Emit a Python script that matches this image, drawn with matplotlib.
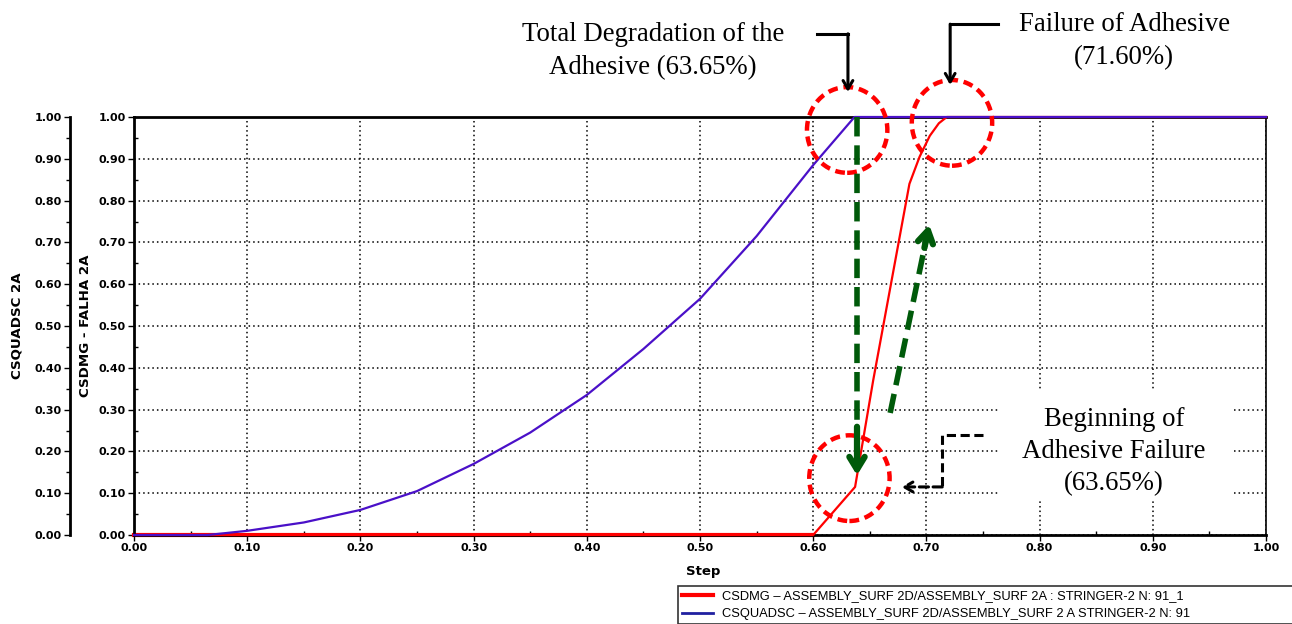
import numpy as np
import matplotlib
matplotlib.use("Agg")
import matplotlib.pyplot as plt
from matplotlib.patches import Ellipse, Rectangle
from matplotlib.lines import Line2D
from matplotlib.ticker import MultipleLocator, FormatStrFormatter
from matplotlib.font_manager import FontProperties

# data
step_quad = [0.0, 0.065, 0.10, 0.15, 0.20, 0.25, 0.30, 0.35, 0.40, 0.45, 0.50, 0.55, 0.60, 0.6365, 1.0]
csquadsc = [0.0, 0.0, 0.01, 0.03, 0.06, 0.105, 0.17, 0.245, 0.335, 0.445, 0.565, 0.715, 0.885, 1.0, 1.0]
step_dmg = [0.0, 0.60, 0.637, 0.653, 0.685, 0.694, 0.703, 0.711, 0.718, 1.0]
csdmg = [0.0, 0.0, 0.115, 0.37, 0.84, 0.905, 0.955, 0.985, 1.0, 1.0]

lbl_dmg = "CSDMG – ASSEMBLY_SURF 2D/ASSEMBLY_SURF 2A : STRINGER-2 N: 91_1"
lbl_quad = "CSQUADSC – ASSEMBLY_SURF 2D/ASSEMBLY_SURF 2 A STRINGER-2 N: 91"

RED = "#ff0000"
PURPLE = "#4a10c8"
GREEN = "#005a0a"
serif = "Liberation Serif"
tickfont = dict(family="DejaVu Sans", weight="bold", size=8)
labfont = dict(family="DejaVu Sans", weight="bold", size=9.6)

W, H = 1292, 624
fig = plt.figure(figsize=(W / 100, H / 100), dpi=100)
ax = fig.add_axes([134 / W, (H - 535) / H, (1266 - 134) / W, (535 - 117) / H])

ax.plot(step_dmg, csdmg, color=RED, lw=1.6, clip_on=False, zorder=3)
ax.plot(step_quad, csquadsc, color=PURPLE, lw=1.6, clip_on=False, zorder=4)
ax.plot([0, 0.6], [0, 0], color=RED, lw=3, clip_on=False, zorder=2)

ax.set_xlim(0, 1)
ax.set_ylim(0, 1)
ax.xaxis.set_major_locator(MultipleLocator(0.1))
ax.yaxis.set_major_locator(MultipleLocator(0.1))
ax.xaxis.set_minor_locator(MultipleLocator(0.05))
ax.yaxis.set_minor_locator(MultipleLocator(0.05))
ax.grid(True, which="major", color="black", ls=(0, (1, 2)), lw=1.1)
ax.xaxis.set_major_formatter(FormatStrFormatter("%.2f"))
ax.yaxis.set_major_formatter(FormatStrFormatter("%.2f"))
ax.tick_params(which="major", length=4, width=1, pad=2)
ax.tick_params(which="minor", length=3, width=1, direction="in")
for t in ax.get_xticklabels() + ax.get_yticklabels():
    t.set_fontproperties(FontProperties(**tickfont))
for s in ["left", "bottom", "top"]:
    ax.spines[s].set_linewidth(2)
ax.spines["right"].set_linestyle((0, (1, 1)))
ax.spines["right"].set_linewidth(1.2)

ax.set_xlabel("Step", fontdict=dict(family="DejaVu Sans", weight="bold", size=9.5))
ax.xaxis.set_label_coords(0.5025, -0.072)
ax.set_ylabel("CSDMG - FALHA 2A", fontdict=labfont)
ax.yaxis.set_label_coords(-0.037, 0.5)

# second (outer) y axis
ax2 = ax.secondary_yaxis(-64 / 1132)
ax2.yaxis.set_major_locator(MultipleLocator(0.1))
ax2.yaxis.set_minor_locator(MultipleLocator(0.05))
ax2.yaxis.set_major_formatter(FormatStrFormatter("%.2f"))
ax2.tick_params(which="major", length=4, width=1, pad=2)
ax2.tick_params(which="minor", length=3, width=1)
ax2.spines["left"].set_linewidth(2)
for t in ax2.get_yticklabels():
    t.set_fontproperties(FontProperties(**tickfont))
ax2.set_ylabel("CSQUADSC 2A", fontdict=labfont, labelpad=8)

# red dashed circles
circles = [(0.630, 0.969), (0.7226, 0.986), (0.632, 0.136)]
for cx, cy in circles:
    ax.add_patch(Ellipse((cx, cy), 0.071, 0.205, fill=False, ec=RED, lw=3.2,
                         ls=(0, (2.2, 1.3)), clip_on=False, zorder=6))

# green dashed arrows
def green_arrow(x0, y0, x1, y1):
    ax.plot([x0, x0 + (x1 - x0) * 0.93], [y0, y0 + (y1 - y0) * 0.93], color=GREEN,
            lw=4, ls=(0, (3.5, 1.6)), clip_on=False, zorder=7)
    ax.annotate("", xy=(x1, y1), xytext=(x0 + (x1 - x0) * 0.85, y0 + (y1 - y0) * 0.85),
                arrowprops=dict(arrowstyle="->,head_length=0.9,head_width=0.55", lw=4.5, color=GREEN),
                zorder=7, annotation_clip=False)

green_arrow(0.6387, 1.0, 0.6387, 0.136)
green_arrow(0.668, 0.292, 0.703, 0.749)

# black connector arrows
def elbow(xs, ys, ls="-"):
    ax.plot(xs[:-1], ys[:-1], color="black", lw=2.2, ls=ls, clip_on=False, zorder=8)
    ax.annotate("", xy=(xs[-1], ys[-1]), xytext=(xs[-2], ys[-2]),
                arrowprops=dict(arrowstyle="->,head_length=0.6,head_width=0.35", lw=2.2,
                                color="black", ls=ls, shrinkA=0, shrinkB=0),
                zorder=8, annotation_clip=False)

elbow([0.603, 0.6307, 0.6307], [1.199, 1.199, 1.06])
elbow([0.763, 0.721, 0.721], [1.222, 1.222, 1.077])
elbow([0.750, 0.714, 0.714, 0.678], [0.239, 0.239, 0.115, 0.115], ls=(0, (3, 1.5)))

# annotation texts
ax.text(0.4585, 1.157, "Total Degradation of the\nAdhesive (63.65%)", family=serif, size=19.3,
        ha="center", va="center", linespacing=1.42, clip_on=False)
ax.text(0.8746, 1.182, "Failure of Adhesive\n(71.60%)", family=serif, size=19.3,
        ha="center", va="center", linespacing=1.42, clip_on=False)
ax.add_patch(Rectangle((0.763, 0.084), 0.207, 0.262, transform=ax.transAxes,
                       fc="white", ec="none", zorder=2.5))
ax.text(0.8657, 0.199, "Beginning of\nAdhesive Failure\n(63.65%)", family=serif, size=19.3,
        ha="center", va="center", linespacing=1.38, zorder=9)

# legend
handles = [Line2D([], [], color=RED, lw=3), Line2D([], [], color="#2020a0", lw=2)]
leg = fig.legend(handles, [lbl_dmg, lbl_quad], loc="lower left", mode="expand",
                 bbox_to_anchor=(678 / W, 0.0, (1310 - 678) / W, 41 / H),
                 prop=dict(family="Liberation Sans", size=9.3),
                 frameon=True, fancybox=False, borderpad=0.3, labelspacing=0.45,
                 handlelength=2.4, handletextpad=0.7, borderaxespad=0.0)
leg.get_frame().set_edgecolor("black")
leg.get_frame().set_linewidth(1.2)

fig.savefig("out.png", dpi=100)
